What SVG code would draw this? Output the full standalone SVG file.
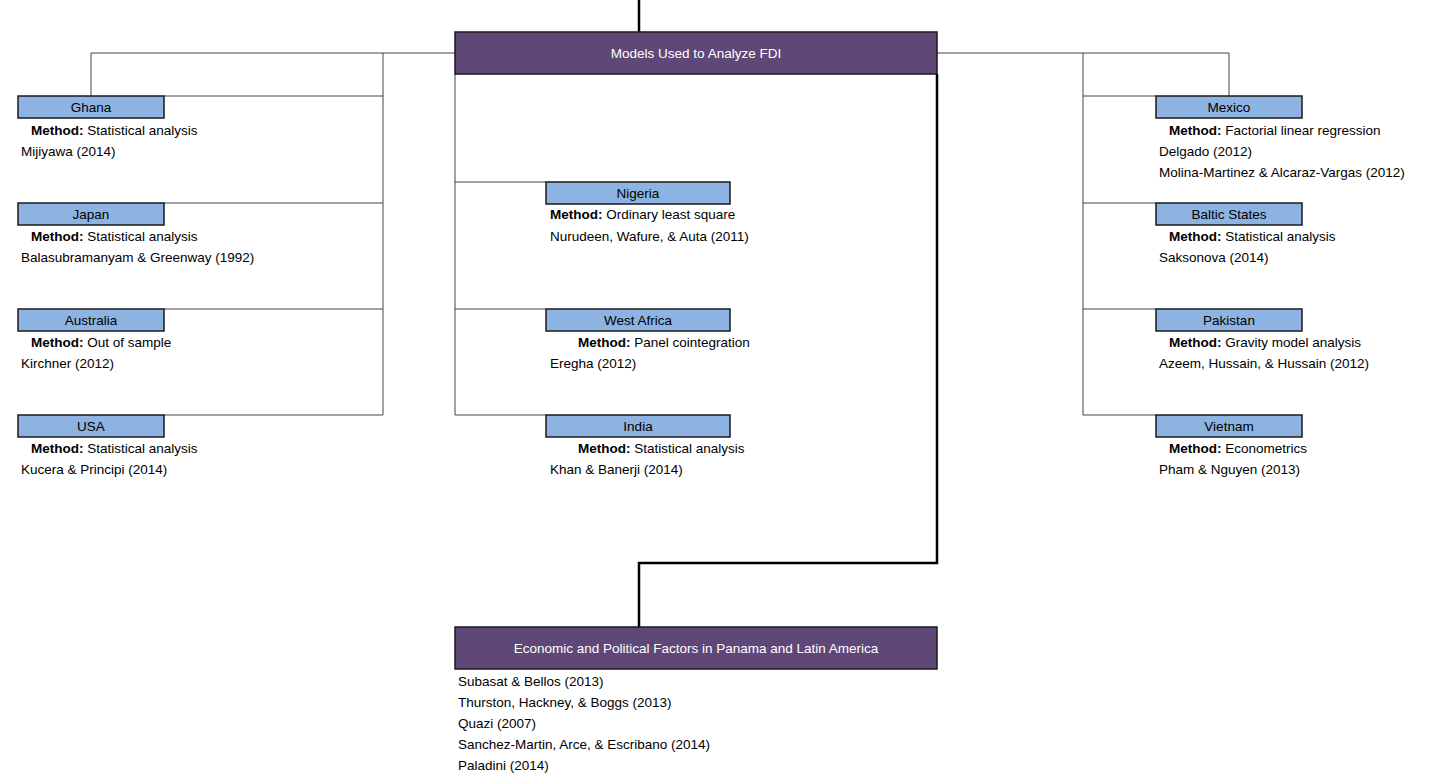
<svg xmlns="http://www.w3.org/2000/svg" width="1449" height="779" viewBox="0 0 1449 779">
<style>
text{font-family:"Liberation Sans",Arial,sans-serif;font-size:13.5px;fill:#000}
.c{fill:#8db3e2;stroke:#1a1a1a;stroke-width:1.5}
.p{fill:#5f4777;stroke:#1a1a1a;stroke-width:1.5}
.w{fill:#fff;text-anchor:middle}
.m{text-anchor:middle}
.b{font-weight:bold}
.t{fill:none;stroke:#444;stroke-width:1}
.k{fill:none;stroke:#000;stroke-width:2.5}
</style>
<rect width="1449" height="779" fill="#fff"/>
<g id="connectors">
<path class="k" d="M639 0V32M937 74V563H639V627"/>
<path class="t" d="M455 53H91V96M383 53V415M383 96H164M383 203H164M383 309H164M383 415H164"/>
<path class="t" d="M937 53H1229V96M1083 53V415M1083 96H1156M1083 203H1156M1083 309H1156M1083 415H1156"/>
<path class="t" d="M455 74V415M455 182H546M455 309H546M455 415H546"/>
</g>
<g id="top"><rect class="p" x="455" y="32" width="482" height="42"/><text class="w" x="696" y="58">Models Used to Analyze FDI</text></g>
<g id="ghana"><rect class="c" x="18" y="96" width="146" height="22"/><text class="m" x="91" y="112">Ghana</text><text x="31" y="135"><tspan class="b">Method:</tspan> Statistical analysis</text><text x="21" y="156">Mijiyawa (2014)</text></g>
<g id="japan"><rect class="c" x="18" y="203" width="146" height="22"/><text class="m" x="91" y="219">Japan</text><text x="31" y="241"><tspan class="b">Method:</tspan> Statistical analysis</text><text x="21" y="262">Balasubramanyam &amp; Greenway (1992)</text></g>
<g id="australia"><rect class="c" x="18" y="309" width="146" height="22"/><text class="m" x="91" y="325">Australia</text><text x="31" y="347"><tspan class="b">Method:</tspan> Out of sample</text><text x="21" y="368">Kirchner (2012)</text></g>
<g id="usa"><rect class="c" x="18" y="415" width="146" height="22"/><text class="m" x="91" y="431">USA</text><text x="31" y="453"><tspan class="b">Method:</tspan> Statistical analysis</text><text x="21" y="474">Kucera &amp; Principi (2014)</text></g>
<g id="nigeria"><rect class="c" x="546" y="182" width="184" height="22"/><text class="m" x="638" y="198">Nigeria</text><text x="550" y="219"><tspan class="b">Method:</tspan> Ordinary least square</text><text x="550" y="241">Nurudeen, Wafure, &amp; Auta (2011)</text></g>
<g id="westafrica"><rect class="c" x="546" y="309" width="184" height="22"/><text class="m" x="638" y="325">West Africa</text><text x="578" y="347"><tspan class="b">Method:</tspan>  Panel cointegration</text><text x="550" y="368">Eregha (2012)</text></g>
<g id="india"><rect class="c" x="546" y="415" width="184" height="22"/><text class="m" x="638" y="431">India</text><text x="578" y="453"><tspan class="b">Method:</tspan> Statistical analysis</text><text x="550" y="474">Khan &amp; Banerji (2014)</text></g>
<g id="mexico"><rect class="c" x="1156" y="96" width="146" height="22"/><text class="m" x="1229" y="112">Mexico</text><text x="1169" y="135"><tspan class="b">Method:</tspan> Factorial linear regression</text><text x="1159" y="156">Delgado (2012)</text><text x="1159" y="177">Molina-Martinez &amp; Alcaraz-Vargas (2012)</text></g>
<g id="baltic"><rect class="c" x="1156" y="203" width="146" height="22"/><text class="m" x="1229" y="219">Baltic States</text><text x="1169" y="241"><tspan class="b">Method:</tspan> Statistical analysis</text><text x="1159" y="262">Saksonova (2014)</text></g>
<g id="pakistan"><rect class="c" x="1156" y="309" width="146" height="22"/><text class="m" x="1229" y="325">Pakistan</text><text x="1169" y="347"><tspan class="b">Method:</tspan> Gravity model analysis</text><text x="1159" y="368">Azeem, Hussain, &amp; Hussain (2012)</text></g>
<g id="vietnam"><rect class="c" x="1156" y="415" width="146" height="22"/><text class="m" x="1229" y="431">Vietnam</text><text x="1169" y="453"><tspan class="b">Method:</tspan> Econometrics</text><text x="1159" y="474">Pham &amp; Nguyen (2013)</text></g>
<g id="bottom"><rect class="p" x="455" y="627" width="482" height="42"/><text class="w" x="696" y="653">Economic and Political Factors in Panama and Latin America</text>
<text x="458" y="686">Subasat &amp; Bellos (2013)</text><text x="458" y="707">Thurston, Hackney, &amp; Boggs (2013)</text><text x="458" y="728">Quazi (2007)</text><text x="458" y="749">Sanchez-Martin, Arce, &amp; Escribano (2014)</text><text x="458" y="770">Paladini (2014)</text></g>
</svg>
